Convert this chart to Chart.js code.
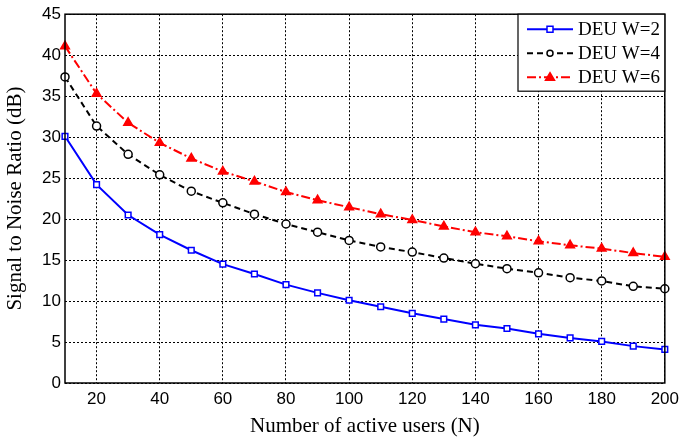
<!DOCTYPE html>
<html>
<head>
<meta charset="utf-8">
<script src="https://cdn.jsdelivr.net/npm/chart.js@4"></script>
<style>
  html, body { margin: 0; padding: 0; background: #fff; }
  #wrap { width: 685px; height: 441px; }
</style>
</head>
<body>
<div id="wrap"><canvas id="snrChart" width="685" height="441"></canvas></div>
<script>
const users = [10, 20, 30, 40, 50, 60, 70, 80, 90, 100, 110, 120, 130, 140, 150, 160, 170, 180, 190, 200];
const snrW2 = [30.1, 24.2, 20.5, 18.1, 16.2, 14.5, 13.3, 12.0, 11.0, 10.1, 9.3, 8.5, 7.8, 7.1, 6.65, 6.0, 5.5, 5.07, 4.5, 4.1];
const snrW4 = [37.35, 31.35, 27.9, 25.4, 23.4, 21.98, 20.6, 19.4, 18.4, 17.4, 16.6, 15.97, 15.25, 14.55, 13.95, 13.45, 12.85, 12.45, 11.8, 11.5];
const snrW6 = [41.1, 35.3, 31.75, 29.3, 27.4, 25.8, 24.6, 23.3, 22.3, 21.45, 20.6, 19.9, 19.1, 18.4, 17.9, 17.3, 16.8, 16.4, 15.85, 15.4];
const xTicks = [20, 40, 60, 80, 100, 120, 140, 160, 180, 200];
const yTicks = [0, 5, 10, 15, 20, 25, 30, 35, 40, 45];
const seriesLabels = ["DEU W=2", "DEU W=4", "DEU W=6"];

const toXY = vals => vals.map((v, i) => ({ x: users[i], y: v }));

// box round the plot plus the legend inside the top right corner
const frameAndLegend = {
    id: "frameAndLegend",
    afterDatasetsDraw(chart) {
        const { ctx, chartArea: a } = chart;
        ctx.save();
        ctx.strokeStyle = "#000";
        ctx.lineWidth = 1.5;
        ctx.setLineDash([]);
        ctx.strokeRect(a.left, a.top, a.right - a.left, a.bottom - a.top);

        const bx = 518, by = a.top, bw = a.right - bx, bh = 77;
        ctx.fillStyle = "#fff";
        ctx.fillRect(bx, by, bw, bh);
        ctx.lineWidth = 1.2;
        ctx.strokeRect(bx, by, bw, bh);

        ctx.font = "19px 'Liberation Serif', 'Times New Roman', serif";
        ctx.textBaseline = "middle";
        chart.data.datasets.forEach((ds, i) => {
            const y = by + 15 + i * 24;
            const x0 = bx + 9, x1 = bx + 55, xm = (x0 + x1) / 2;
            ctx.strokeStyle = ds.borderColor;
            ctx.lineWidth = ds.borderWidth;
            ctx.setLineDash(ds.borderDash || []);
            ctx.beginPath();
            ctx.moveTo(x0, y);
            ctx.lineTo(x1, y);
            ctx.stroke();
            ctx.setLineDash([]);
            ctx.lineWidth = 1.5;
            ctx.fillStyle = ds.pointBackgroundColor;
            ctx.beginPath();
            if (ds.pointStyle === "rect") {
                ctx.rect(xm - 3, y - 3, 6, 6);
            } else if (ds.pointStyle === "triangle") {
                ctx.moveTo(xm, y - 4.5);
                ctx.lineTo(xm + 4.5, y + 3);
                ctx.lineTo(xm - 4.5, y + 3);
                ctx.closePath();
            } else {
                ctx.arc(xm, y, 3, 0, Math.PI * 2);
            }
            ctx.fill();
            ctx.stroke();
            ctx.fillStyle = "#000";
            ctx.fillText(ds.label, x1 + 5, y + 1);
        });
        ctx.restore();
    }
};

new Chart(document.getElementById("snrChart").getContext("2d"), {
    type: "line",
    data: {
        datasets: [
            {
                label: seriesLabels[0],
                data: toXY(snrW2),
                borderColor: "#0000ff",
                borderWidth: 2,
                pointStyle: "rect",
                pointRadius: 4,
                pointBorderWidth: 1.5,
                pointBackgroundColor: "#ffffff",
                pointBorderColor: "#0000ff",
            },
            {
                label: seriesLabels[1],
                data: toXY(snrW4),
                borderColor: "#000000",
                borderWidth: 2,
                borderDash: [6, 4],
                pointStyle: "circle",
                pointRadius: 4,
                pointBorderWidth: 1.5,
                pointBackgroundColor: "#ffffff",
                pointBorderColor: "#000000",
            },
            {
                label: seriesLabels[2],
                data: toXY(snrW6),
                borderColor: "#ff0000",
                borderWidth: 2,
                borderDash: [9, 3, 2, 3],
                pointStyle: "triangle",
                pointRadius: 5,
                pointBorderWidth: 1.5,
                pointBackgroundColor: "#ff0000",
                pointBorderColor: "#ff0000",
            },
        ],
    },
    options: {
        responsive: false,
        animation: false,
        clip: false,
        layout: { padding: { top: 13, right: 18, left: 0, bottom: 0 } },
        plugins: { legend: { display: false }, tooltip: { enabled: false } },
        scales: {
            x: {
                type: "linear",
                min: 10,
                max: 200,
                afterBuildTicks: s => { s.ticks = xTicks.map(v => ({ value: v })); },
                afterFit: s => { s.height = 58; },
                grid: { color: "#000", lineWidth: 1, drawTicks: false },
                border: { display: false, dash: [2, 2] },
                ticks: {
                    color: "#000",
                    padding: 6,
                    maxRotation: 0,
                    font: { family: "'Liberation Sans', Arial, sans-serif", size: 17 },
                },
                title: {
                    display: true,
                    text: "Number of active users (N)",
                    color: "#000",
                    padding: { top: 0, bottom: 2 },
                    font: { family: "'Liberation Serif', 'Times New Roman', serif", size: 21 },
                },
            },
            y: {
                min: 0,
                max: 45,
                afterBuildTicks: s => { s.ticks = yTicks.map(v => ({ value: v })); },
                afterFit: s => { s.width = 65; },
                grid: { color: "#000", lineWidth: 1, drawTicks: false },
                border: { display: false, dash: [2, 2] },
                ticks: {
                    color: "#000",
                    padding: 4,
                    font: { family: "'Liberation Sans', Arial, sans-serif", size: 17 },
                },
                title: {
                    display: true,
                    text: "Signal to Noise Ratio (dB)",
                    color: "#000",
                    padding: { top: 3, bottom: 0 },
                    font: { family: "'Liberation Serif', 'Times New Roman', serif", size: 21 },
                },
            },
        },
    },
    plugins: [frameAndLegend],
});
</script>
</body>
</html>
